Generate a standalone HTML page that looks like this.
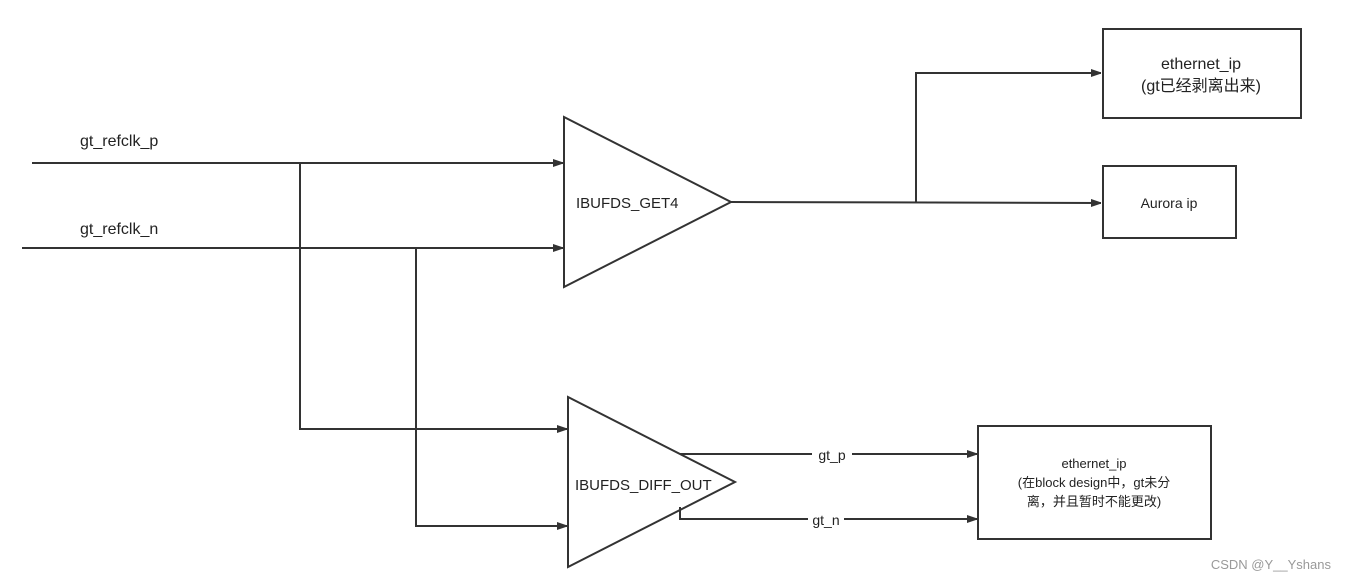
<!DOCTYPE html>
<html><head><meta charset="utf-8"><style>
html,body{margin:0;padding:0;background:#fff;}
svg{display:block;}
text{font-family:"Liberation Sans","Noto Sans CJK SC",sans-serif;fill:#222;}
</style></head><body>
<svg width="1346" height="580" viewBox="0 0 1346 580" xmlns="http://www.w3.org/2000/svg">
<defs><marker id="a" markerWidth="10" markerHeight="8" refX="10" refY="4" orient="auto" markerUnits="userSpaceOnUse"><path d="M0,0 L12,4 L0,8 z" fill="#333"/></marker></defs>
<g stroke="#333" stroke-width="2" fill="none">
<polygon points="564,117 564,287 731,202"/>
<polygon points="568,397 568,567 735,482"/>
<line x1="32" y1="163" x2="563" y2="163" marker-end="url(#a)"/>
<line x1="22" y1="248" x2="563" y2="248" marker-end="url(#a)"/>
<polyline points="300,163 300,429 567,429" marker-end="url(#a)"/>
<polyline points="416,248 416,526 567,526" marker-end="url(#a)"/>
<line x1="731" y1="202" x2="1101" y2="203" marker-end="url(#a)"/>
<polyline points="916,203 916,73 1101,73" marker-end="url(#a)"/>
<line x1="680" y1="454" x2="977" y2="454" marker-end="url(#a)"/>
<polyline points="680,507 680,519 977,519" marker-end="url(#a)"/>
<rect x="1103" y="29" width="198" height="89"/>
<rect x="1103" y="166" width="133" height="72"/>
<rect x="978" y="426" width="233" height="113"/>
</g>
<rect x="812" y="446" width="40" height="16" fill="#fff"/>
<rect x="808" y="511" width="36" height="16" fill="#fff"/>
<text x="80" y="146" font-size="16">gt_refclk_p</text>
<text x="80" y="234" font-size="16">gt_refclk_n</text>
<text x="576" y="208" font-size="15">IBUFDS_GET4</text>
<text x="575" y="490" font-size="15">IBUFDS_DIFF_OUT</text>
<text x="832" y="460" font-size="14" text-anchor="middle">gt_p</text>
<text x="826" y="525" font-size="14" text-anchor="middle">gt_n</text>
<text x="1201" y="69" font-size="16" text-anchor="middle">ethernet_ip</text>
<text x="1201" y="91" font-size="16" text-anchor="middle">(gt已经剥离出来)</text>
<text x="1169" y="208" font-size="14" text-anchor="middle">Aurora ip</text>
<text x="1094" y="468" font-size="13" text-anchor="middle">ethernet_ip</text>
<text x="1094" y="487" font-size="13" text-anchor="middle">(在block design中，gt未分</text>
<text x="1094" y="506" font-size="13" text-anchor="middle">离，并且暂时不能更改)</text>
<text x="1331" y="569" font-size="13" text-anchor="end" style="fill:#999">CSDN @Y__Yshans</text>
</svg>
</body></html>
